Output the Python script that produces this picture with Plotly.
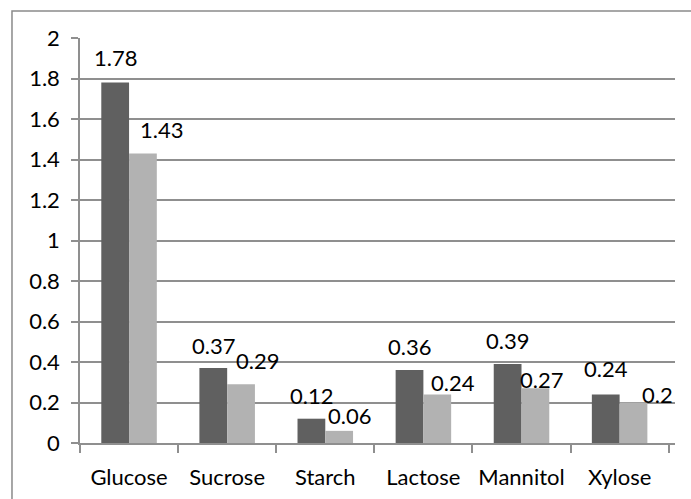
import plotly.graph_objects as go

# Sugar categories and the two measured series
categories = ["Glucose", "Sucrose", "Starch", "Lactose", "Mannitol", "Xylose"]
series_a = [1.78, 0.37, 0.12, 0.36, 0.39, 0.24]
series_b = [1.43, 0.29, 0.06, 0.24, 0.27, 0.2]

y_ticks = [0, 0.2, 0.4, 0.6, 0.8, 1, 1.2, 1.4, 1.6, 1.8, 2]
y_tick_text = ["0", "0.2", "0.4", "0.6", "0.8", "1", "1.2", "1.4", "1.6", "1.8", "2"]

# Label placement (pixel offsets of each value label from its bar top)
label_dx_a = [0, 0, 0, 0, 0, 0]
label_dy_a = [25, 23, 23, 24, 24, 26]
label_dx_b = [19, 16, 10, 16, 6, 24]
label_dy_b = [24, 24, 15, 12, 9, 8]

DARK = "#606060"
LIGHT = "#b2b2b2"
GRID = "#8f8f8f"
FONT = "Lato"
TXT = "#000000"
FS = 22

fig = go.Figure()
fig.add_trace(go.Bar(x=categories, y=series_a, marker=dict(color=DARK, line=dict(width=0)),
                     offsetgroup="a", hoverinfo="x+y"))
fig.add_trace(go.Bar(x=categories, y=series_b, marker=dict(color=LIGHT, line=dict(width=0)),
                     offsetgroup="b", hoverinfo="x+y"))

# Value labels above the bars
bar_w = (1 - 0.434) / 2
for i, cat in enumerate(categories):
    fig.add_annotation(x=i - bar_w / 2, y=series_a[i], xref="x", yref="y",
                       text=f"{series_a[i]:g}", showarrow=False,
                       xshift=label_dx_a[i], yshift=label_dy_a[i],
                       yanchor="middle", xanchor="center",
                       font=dict(family=FONT, size=FS, color=TXT))
    fig.add_annotation(x=i + bar_w / 2, y=series_b[i], xref="x", yref="y",
                       text=f"{series_b[i]:g}", showarrow=False,
                       xshift=label_dx_b[i], yshift=label_dy_b[i],
                       yanchor="middle", xanchor="center",
                       font=dict(family=FONT, size=FS, color=TXT))

# Chart-area frame (only its top and left edges fall inside the page)
fig.add_shape(type="rect", xref="paper", yref="paper",
              x0=-0.1143, x1=1.3, y0=-0.4, y1=1.0667,
              line=dict(color="#8a8a8a", width=1.5), fillcolor="rgba(0,0,0,0)",
              layer="below")

fig.update_layout(
    width=691, height=499,
    margin=dict(l=80, r=16, t=38, b=56),
    paper_bgcolor="white", plot_bgcolor="white",
    showlegend=False,
    barmode="group", bargap=0.434, bargroupgap=0,
    font=dict(family=FONT, size=FS, color=TXT),
    xaxis=dict(
        type="category", showgrid=False, automargin=False,
        showline=True, linecolor=GRID, linewidth=1.5,
        ticks="outside", tickson="boundaries", ticklen=8, tickcolor=GRID, tickwidth=1.5,
        tickfont=dict(family=FONT, size=FS, color=TXT),
        ticklabelstandoff=14,
    ),
    yaxis=dict(
        range=[0, 2], tickvals=y_ticks, ticktext=y_tick_text, automargin=False,
        showgrid=True, gridcolor=GRID, gridwidth=1.5,
        showline=True, linecolor=GRID, linewidth=1.5,
        ticks="outside", ticklen=7, tickcolor=GRID, tickwidth=1.5,
        tickfont=dict(family=FONT, size=FS, color=TXT),
        ticklabelstandoff=7,
        zeroline=False,
    ),
)

fig.write_html("out.html")
